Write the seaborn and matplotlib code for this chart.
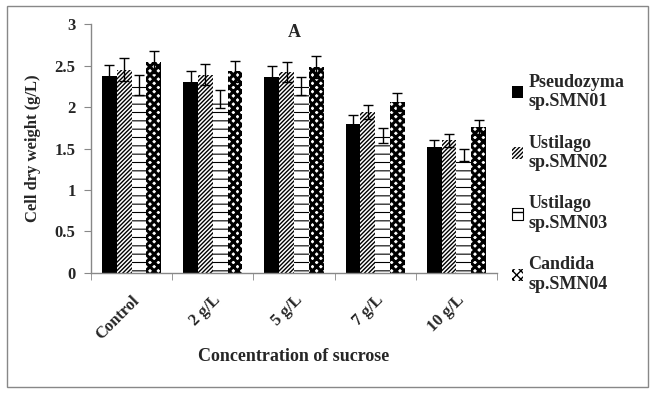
import numpy as np
import pandas as pd
import matplotlib
matplotlib.use("Agg")
import matplotlib.pyplot as plt
import seaborn as sns
from matplotlib.patches import Rectangle, Patch

# Data
groups = ["Control", "2 g/L", "5 g/L", "7 g/L", "10 g/L"]
strains = ["Pseudozyma\nsp.SMN01", "Ustilago\nsp.SMN02", "Ustilago\nsp.SMN03", "Candida\nsp.SMN04"]
smn01 = [2.37, 2.30, 2.36, 1.80, 1.52]
smn02 = [2.45, 2.39, 2.42, 1.94, 1.60]
smn03 = [2.27, 2.10, 2.25, 1.66, 1.42]
smn04 = [2.54, 2.43, 2.48, 2.06, 1.76]
err01 = [0.14, 0.13, 0.13, 0.10, 0.08]
err02 = [0.14, 0.13, 0.12, 0.09, 0.08]
err03 = [0.12, 0.11, 0.11, 0.09, 0.07]
err04 = [0.13, 0.13, 0.13, 0.11, 0.08]

df = pd.DataFrame({
    "Group": groups * 4,
    "Strain": np.repeat(strains, len(groups)),
    "Weight": smn01 + smn02 + smn03 + smn04,
    "Err": err01 + err02 + err03 + err04,
})

sns.set_style("white")
plt.rcParams["font.family"] = ["Liberation Serif", "DejaVu Serif"]
plt.rcParams["font.weight"] = "bold"
plt.rcParams["hatch.linewidth"] = 1.0

fig = plt.figure(figsize=(6.54, 3.95), dpi=100)
ax = fig.add_axes([0.139, 0.309, 0.621, 0.63])

sns.barplot(data=df, x="Group", y="Weight", hue="Strain", order=groups,
            hue_order=strains, width=0.73, errorbar=None, ax=ax,
            palette=["black", "white", "white", "white"], legend=False)

hatches = [None, "////////", "--", "xxxx"]
hatch_lw = [1.0, 1.0, 0.8, 2.2]


def style_patch(p, h, lw, edge=0):
    p.set_edgecolor("black")
    p.set_linewidth(edge)
    if h:
        p.set_hatch(h)
        if hasattr(p, "set_hatch_linewidth"):
            p.set_hatch_linewidth(lw)


for container, h, lw in zip(ax.containers, hatches, hatch_lw):
    for bar in container:
        style_patch(bar, h, lw)

# error bars at bar centres
for container, s in zip(ax.containers, strains):
    sub = df[df["Strain"] == s].set_index("Group").loc[groups]
    xs = [b.get_x() + b.get_width() / 2 for b in container]
    ax.errorbar(xs, sub["Weight"], yerr=sub["Err"], fmt="none",
                ecolor="black", elinewidth=1, capsize=3.5, capthick=1)

ax.set_ylim(0, 3)
ax.set_xlim(-0.5, 4.5)
ax.set_yticks(np.arange(0, 3.01, 0.5))
ax.set_yticklabels(["0", "0.5", "1", "1.5", "2", "2.5", "3"])
ax.tick_params(axis="y", length=5, color="#888888", labelsize=12, direction="out", left=True, pad=6)
ax.tick_params(axis="x", length=0, labelsize=12, pad=14)
ax.set_xticks(np.arange(-0.5, 4.6, 1), minor=True)
ax.tick_params(axis="x", which="minor", length=5, color="#888888", bottom=True, direction="out")
for lbl in ax.get_xticklabels():
    lbl.set_rotation(45)
    lbl.set_ha("right")
    lbl.set_rotation_mode("anchor")
    lbl.set_fontweight("bold")
for lbl in ax.get_yticklabels():
    lbl.set_fontweight("bold")

for side in ["top", "right"]:
    ax.spines[side].set_visible(False)
for side in ["left", "bottom"]:
    ax.spines[side].set_color("#888888")
    ax.spines[side].set_linewidth(1)

ax.set_xlabel("Concentration of sucrose", fontsize=13, fontweight="bold", labelpad=4)
ax.set_ylabel("Cell dry weight (g/L)", fontsize=12, fontweight="bold", labelpad=10)
ax.text(0.5, 1.0, "A", transform=ax.transAxes, ha="center", va="top",
        fontsize=13, fontweight="bold")

handles = []
for c, h, lw, e in zip(["black", "white", "white", "white"], hatches,
                       [1.0, 1.0, 0.8, 1.5], [0, 0, 0.8, 0]):
    p = Patch(facecolor=c)
    style_patch(p, h, lw, e)
    handles.append(p)
fig.legend(handles, strains, loc="upper left", bbox_to_anchor=(0.758, 0.855),
           frameon=False, handlelength=0.6, handleheight=0.6,
           handletextpad=0.3, labelspacing=1.35, prop={"weight": "bold", "size": 13})

fig.add_artist(Rectangle((0.011, 0.02), 0.98, 0.965, transform=fig.transFigure,
                         fill=False, edgecolor="#888888", linewidth=1))

fig.savefig("out.png", dpi=100)
